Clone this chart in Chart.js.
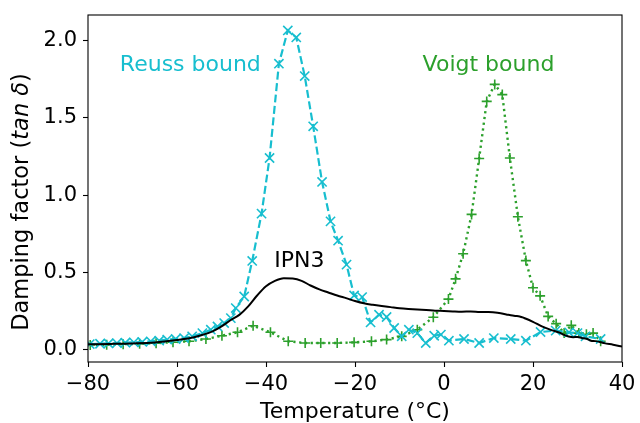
<!DOCTYPE html>
<html>
<head>
<meta charset="utf-8">
<script src="https://cdn.jsdelivr.net/npm/chart.js@4/dist/chart.umd.min.js"></script>
<style>
  html, body { margin: 0; padding: 0; background: #fff; }
  #c { display: block; }
</style>
</head>
<body>
<canvas id="c" width="640" height="423"></canvas>
<script>
// Temperature sweeps (°C) and damping factor tan δ for each curve
const reussT = [-79.6, -77.3, -75.4, -73.5, -71.6, -69.7, -67.8, -65.9, -64.0, -62.2, -60.3, -58.4, -56.6, -54.3, -52.4, -50.9, -49.4, -47.9, -46.8, -44.9, -43.1, -41.0, -39.2, -37.1, -35.1, -33.2, -31.3, -29.4, -27.4, -25.5, -23.8, -21.9, -20.2, -18.4, -16.5, -14.6, -12.9, -11.2, -9.5, -7.9, -6.0, -4.1, -2.2, -0.7, 1.1, 4.5, 7.9, 11.2, 15.0, 18.4, 21.7, 25.1, 28.1, 30.0, 31.8, 35.2];
const reussTan = [0.036, 0.038, 0.040, 0.042, 0.045, 0.047, 0.050, 0.054, 0.058, 0.065, 0.069, 0.075, 0.086, 0.107, 0.129, 0.150, 0.172, 0.204, 0.269, 0.344, 0.574, 0.880, 1.240, 1.850, 2.065, 2.020, 1.770, 1.445, 1.085, 0.830, 0.705, 0.550, 0.350, 0.340, 0.176, 0.226, 0.211, 0.140, 0.086, 0.129, 0.107, 0.043, 0.090, 0.097, 0.058, 0.069, 0.043, 0.075, 0.069, 0.058, 0.114, 0.123, 0.112, 0.107, 0.086, 0.069];

const voigtT = [-79.5, -75.8, -72.1, -68.4, -64.7, -60.9, -57.3, -53.5, -49.9, -46.4, -42.9, -39.0, -35.0, -31.2, -27.7, -24.0, -20.2, -16.3, -12.9, -9.5, -6.0, -2.4, 1.0, 2.6, 4.3, 6.2, 7.9, 9.6, 11.4, 13.1, 14.8, 16.6, 18.4, 20.0, 21.6, 23.4, 25.2, 27.0, 28.6, 30.3, 32.0, 33.5, 35.2];
const voigtTan = [0.030, 0.032, 0.035, 0.038, 0.042, 0.048, 0.054, 0.069, 0.090, 0.112, 0.155, 0.112, 0.054, 0.043, 0.043, 0.043, 0.047, 0.054, 0.065, 0.086, 0.129, 0.210, 0.327, 0.458, 0.620, 0.875, 1.237, 1.606, 1.716, 1.650, 1.240, 0.860, 0.576, 0.400, 0.348, 0.215, 0.168, 0.107, 0.157, 0.107, 0.100, 0.107, 0.054];

const ipnT = [-80, -75, -70, -65, -60, -57, -55, -52, -50, -48, -46, -44, -42, -40, -38, -36, -34, -32, -30, -28, -26, -24, -22, -20, -18, -16, -14, -12, -10, -8, -6, -4, -2, 0, 2, 4, 6, 8, 10, 12, 14, 15, 16, 17, 18, 20, 22, 24, 26, 27, 28, 29, 30, 31, 32, 33, 34, 35, 36, 38, 40];
const ipnTan = [0.035, 0.037, 0.040, 0.046, 0.062, 0.075, 0.090, 0.118, 0.150, 0.190, 0.225, 0.280, 0.350, 0.410, 0.445, 0.462, 0.460, 0.445, 0.415, 0.390, 0.370, 0.350, 0.333, 0.315, 0.300, 0.290, 0.282, 0.275, 0.268, 0.263, 0.259, 0.256, 0.252, 0.250, 0.247, 0.245, 0.247, 0.244, 0.243, 0.238, 0.228, 0.222, 0.218, 0.215, 0.205, 0.180, 0.150, 0.128, 0.110, 0.095, 0.085, 0.080, 0.082, 0.075, 0.070, 0.058, 0.055, 0.050, 0.042, 0.032, 0.020];

const xTicks = [-80, -60, -40, -20, 0, 20, 40];
const yTicks = [0.0, 0.5, 1.0, 1.5, 2.0];

// Curve labels placed in data coordinates: [text, temperature, tan δ, colour]
const curveLabels = [
  ['Reuss bound', -57, 1.80, '#17becf'],
  ['Voigt bound', 10, 1.80, '#2ca02c'],
  ['IPN3', -32.5, 0.535, '#000000']
];

const FONT = "'DejaVu Sans', 'Liberation Sans', sans-serif";

const pts = (xs, ys) => xs.map((x, i) => ({ x: x, y: ys[i] }));

// Frame, axis titles and curve labels
const decorations = {
  id: 'decorations',
  afterDraw(chart) {
    const ctx = chart.ctx;
    const a = chart.chartArea;
    const xs = chart.scales.x, ys = chart.scales.y;
    ctx.save();

    ctx.strokeStyle = '#000';
    ctx.lineWidth = 1.1;
    ctx.strokeRect(a.left, a.top, a.right - a.left, a.bottom - a.top);

    ctx.fillStyle = '#000';
    ctx.textAlign = 'center';
    ctx.textBaseline = 'alphabetic';
    ctx.font = '22px ' + FONT;
    ctx.fillText('Temperature (°C)', (a.left + a.right) / 2, 418);

    // y title with italic "tan δ"
    const parts = [
      ['Damping factor (', 'normal'],
      ['tan', 'italic'],
      [' ', 'normal'],
      ['δ', 'italic'],
      [')', 'normal']
    ];
    const size = '22.5px ';
    ctx.save();
    ctx.translate(28, 202);
    ctx.rotate(-Math.PI / 2);
    ctx.textAlign = 'left';
    let total = 0;
    const widths = parts.map(p => {
      ctx.font = p[1] + ' ' + size + FONT;
      const w = ctx.measureText(p[0]).width;
      total += w;
      return w;
    });
    let x0 = -total / 2;
    parts.forEach((p, i) => {
      ctx.font = p[1] + ' ' + size + FONT;
      ctx.fillText(p[0], x0, 0);
      x0 += widths[i];
    });
    ctx.restore();

    ctx.font = '22px ' + FONT;
    ctx.textAlign = 'center';
    curveLabels.forEach(l => {
      ctx.fillStyle = l[3];
      ctx.fillText(l[0], xs.getPixelForValue(l[1]), ys.getPixelForValue(l[2]));
    });
    ctx.restore();
  }
};

new Chart(document.getElementById('c'), {
  type: 'scatter',
  data: {
    datasets: [
      {
        label: 'IPN3',
        data: pts(ipnT, ipnTan),
        showLine: true,
        borderColor: '#000',
        borderWidth: 2,
        pointRadius: 0,
        cubicInterpolationMode: 'monotone',
        order: 1
      },
      {
        label: 'Reuss bound',
        data: pts(reussT, reussTan),
        showLine: true,
        borderColor: '#17becf',
        backgroundColor: '#17becf',
        borderWidth: 2.2,
        borderDash: [8, 3.5],
        pointStyle: 'crossRot',
        pointRadius: 6.5,
        pointBorderWidth: 1.6,
        pointBorderColor: '#17becf',
        order: 2
      },
      {
        label: 'Voigt bound',
        data: pts(voigtT, voigtTan),
        showLine: true,
        borderColor: '#2ca02c',
        backgroundColor: '#2ca02c',
        borderWidth: 2.4,
        borderDash: [2.2, 3.6],
        pointStyle: 'cross',
        pointRadius: 5,
        pointBorderWidth: 1.6,
        pointBorderColor: '#2ca02c',
        order: 3
      }
    ]
  },
  options: {
    responsive: false,
    animation: false,
    devicePixelRatio: 1,
    layout: { padding: { top: 15, right: 18, left: 0, bottom: 0 } },
    plugins: { legend: { display: false }, tooltip: { enabled: false } },
    scales: {
      x: {
        type: 'linear',
        min: -80,
        max: 40,
        afterFit: s => { s.height = 61; s.paddingLeft = 0; s.paddingRight = 0; },
        afterBuildTicks: s => { s.ticks = xTicks.map(v => ({ value: v })); },
        ticks: {
          color: '#000',
          font: { size: 21, family: FONT },
          padding: 5,
          maxRotation: 0,
          callback: v => String(v).replace('-', '\u2212')
        },
        grid: { drawOnChartArea: false, drawTicks: true, tickLength: 5, color: '#000', tickWidth: 1.1 },
        border: { display: false }
      },
      y: {
        min: -0.08,
        max: 2.165,
        afterFit: s => { s.width = 88; s.paddingTop = 0; s.paddingBottom = 0; },
        afterBuildTicks: s => { s.ticks = yTicks.map(v => ({ value: v })); },
        ticks: {
          color: '#000',
          font: { size: 21, family: FONT },
          padding: 6,
          callback: v => Number(v).toFixed(1)
        },
        grid: { drawOnChartArea: false, drawTicks: true, tickLength: 5, color: '#000', tickWidth: 1.1 },
        border: { display: false }
      }
    }
  },
  plugins: [decorations]
});
</script>
</body>
</html>
